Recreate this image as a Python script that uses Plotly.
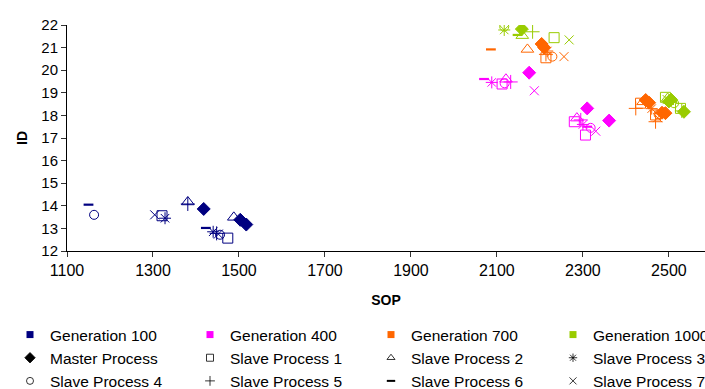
import plotly.graph_objects as go

# SOP (x) / ID (y) values per generation, with the process that produced each point
PROCESSES = ["Master Process", "Slave Process 1", "Slave Process 2", "Slave Process 3",
             "Slave Process 4", "Slave Process 5", "Slave Process 6", "Slave Process 7"]

gen100_proc = [0, 0, 0, 1, 1, 2, 2, 3, 3, 4, 4, 5, 5, 6, 6, 7, 7]
gen100_sop = [1418, 1503, 1517, 1321, 1474, 1381, 1488, 1328, 1440, 1163, 1456, 1381, 1448, 1150, 1423, 1304, 1452]
gen100_id = [13.86, 13.38, 13.17, 13.56, 12.57, 14.17, 13.49, 13.45, 12.85, 13.6, 12.72, 14.08, 12.78, 14.05, 13.02, 13.6, 12.75]

gen400_proc = [0, 0, 0, 1, 1, 1, 2, 2, 3, 3, 4, 4, 5, 5, 6, 6, 7, 7]
gen400_sop = [2175, 2310, 2361, 2112, 2280, 2306, 2121, 2286, 2088, 2300, 2118, 2318, 2132, 2295, 2070, 2310, 2187, 2330]
gen400_id = [19.89, 18.31, 17.77, 19.39, 17.72, 17.13, 19.6, 17.88, 19.46, 17.6, 19.42, 17.45, 19.48, 17.8, 19.61, 17.5, 19.09, 17.3]

gen700_proc = [0, 0, 0, 0, 0, 0, 1, 1, 1, 2, 2, 3, 3, 4, 4, 5, 5, 5, 6, 6, 7, 7]
gen700_sop = [2204, 2210, 2446, 2454, 2484, 2492, 2214, 2434, 2469, 2171, 2440, 2217, 2460, 2229, 2476,
              2214, 2423, 2469, 2086, 2478, 2256, 2474]
gen700_id = [21.16, 21.0, 18.68, 18.56, 18.12, 18.1, 20.55, 18.54, 18.02, 20.92, 18.6, 20.85, 18.3, 20.6, 18.05,
             20.7, 18.31, 17.72, 20.92, 18.1, 20.6, 17.9]

gen1000_proc = [0, 0, 0, 0, 1, 1, 1, 2, 2, 3, 3, 4, 4, 5, 5, 6, 6, 7, 7]
gen1000_sop = [2158, 2500, 2505, 2535, 2233, 2492, 2527, 2159, 2497, 2117, 2502, 2117, 2512, 2183, 2530,
               2148, 2508, 2268, 2496]
gen1000_id = [21.82, 18.62, 18.7, 18.16, 21.44, 18.8, 18.31, 21.53, 18.75, 21.78, 18.65, 21.93, 18.54, 21.7, 18.2,
              21.56, 18.6, 21.34, 18.7]

GENERATIONS = ["Generation 100", "Generation 400", "Generation 700", "Generation 1000"]
GEN_COLORS = ["#000080", "#FF00FF", "#FF6600", "#99CC00"]

x_ticks = [1100, 1300, 1500, 1700, 1900, 2100, 2300, 2500]
y_ticks = list(range(12, 23))

# marker symbol, size and line width per process
SYMBOLS = ["diamond", "square-open", "triangle-up-open", "asterisk-open",
           "circle-open", "cross-thin-open", "line-ew-open", "x-thin-open"]
SIZES = [10, 10, 11, 10, 9, 10, 7, 9]
WIDTHS = [1, 1, 1, 1, 1, 1, 2.2, 1]

gen_data = [
    (gen100_proc, gen100_sop, gen100_id),
    (gen400_proc, gen400_sop, gen400_id),
    (gen700_proc, gen700_sop, gen700_id),
    (gen1000_proc, gen1000_sop, gen1000_id),
]

fig = go.Figure()

for g, (procs, xs, ys) in enumerate(gen_data):
    color = GEN_COLORS[g]
    for p in range(len(PROCESSES)):
        px = [x for x, q in zip(xs, procs) if q == p]
        py = [y for y, q in zip(ys, procs) if q == p]
        if not px:
            continue
        fig.add_trace(go.Scatter(
            x=px, y=py, mode="markers", showlegend=False, hoverinfo="x+y",
            marker=dict(symbol=SYMBOLS[p], size=SIZES[p], color=color,
                        line=dict(color=color, width=WIDTHS[p])),
        ))

# legend columns: generation swatch on top, then two process symbols
columns = [
    [("gen", 0), ("proc", 0), ("proc", 4)],
    [("gen", 1), ("proc", 1), ("proc", 5)],
    [("gen", 2), ("proc", 2), ("proc", 6)],
    [("gen", 3), ("proc", 3), ("proc", 7)],
]
legend_names = ["legend", "legend2", "legend3", "legend4"]

PLOT_L, PLOT_T, PLOT_W, PLOT_H = 67, 25, 638, 226
col_left_px = [10, 190, 371, 553]
legend_top_px = 318

LEGEND_SIZES = [8, 7, 7, 7, 7, 7, 6, 7]

for c, entries in enumerate(columns):
    for k, (kind, idx) in enumerate(entries):
        if kind == "gen":
            name = GENERATIONS[idx]
            marker = dict(symbol="square", size=7, color=GEN_COLORS[idx],
                          line=dict(color=GEN_COLORS[idx], width=0))
        else:
            name = PROCESSES[idx]
            marker = dict(symbol=SYMBOLS[idx], size=LEGEND_SIZES[idx], color="black",
                          line=dict(color="black", width=2 if idx == 6 else 0.8))
        fig.add_trace(go.Scatter(
            x=[None], y=[None], mode="markers", name=name, marker=marker,
            legend=legend_names[c], showlegend=True,
        ))

legend_common = dict(
    xref="paper", yref="paper", xanchor="left", yanchor="top",
    orientation="v", font=dict(family="Liberation Sans, Arial", size=15.5, color="black"),
    bgcolor="rgba(0,0,0,0)", tracegroupgap=0, itemwidth=30,
)

layout_legends = {}
for c, nm in enumerate(legend_names):
    layout_legends[nm] = dict(
        legend_common,
        x=(col_left_px[c] - PLOT_L) / PLOT_W,
        y=(PLOT_T + PLOT_H - legend_top_px) / PLOT_H,
    )

fig.update_layout(
    width=705, height=389,
    margin=dict(l=PLOT_L, r=705 - PLOT_L - PLOT_W, t=PLOT_T, b=389 - PLOT_T - PLOT_H, autoexpand=False),
    paper_bgcolor="white", plot_bgcolor="white",
    font=dict(family="Liberation Sans, Arial", color="black"),
    xaxis=dict(
        range=[1100, 2584], tickvals=x_ticks, ticks="outside", ticklen=5, tickcolor="#333",
        showline=True, linecolor="black", linewidth=1, showgrid=False, zeroline=False,
        tickfont=dict(size=16), title=dict(text="<b>SOP</b>", font=dict(size=14), standoff=16),
        automargin=False,
    ),
    yaxis=dict(
        range=[12, 22], tickvals=y_ticks, ticks="outside", ticklen=5, tickcolor="#333",
        showline=True, linecolor="black", linewidth=1, showgrid=False, zeroline=False,
        tickfont=dict(size=15), title=dict(text="<b>ID</b>", font=dict(size=14), standoff=10),
        automargin=False,
    ),
    **layout_legends,
)

fig.write_html("out.html")
